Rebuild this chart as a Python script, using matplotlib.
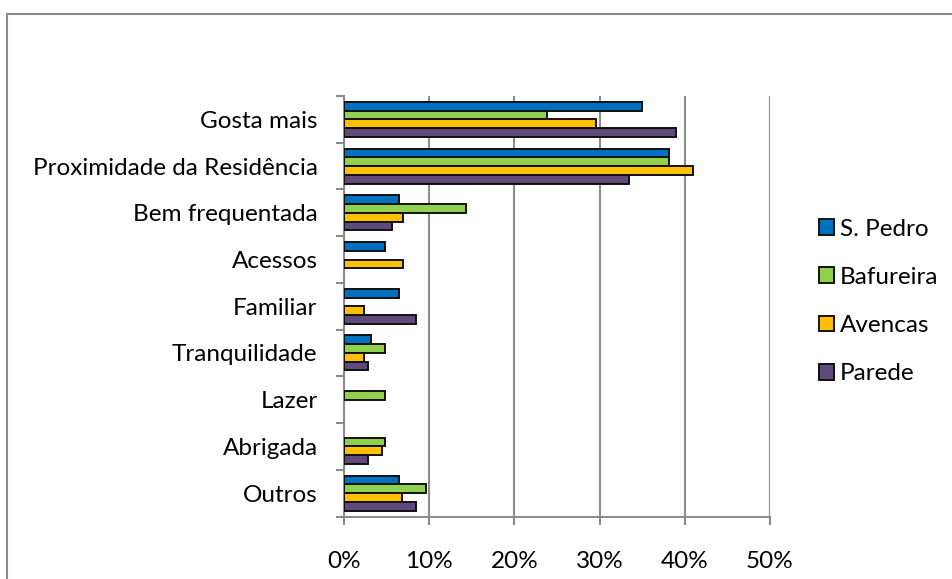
import numpy as np
import matplotlib.pyplot as plt
from matplotlib.patches import Rectangle

plt.rcParams['font.family'] = ['Lato', 'DejaVu Sans']

categorias = ['Gosta mais', 'Proximidade da Residência', 'Bem frequentada', 'Acessos',
              'Familiar', 'Tranquilidade', 'Lazer', 'Abrigada', 'Outros']
series = ['S. Pedro', 'Bafureira', 'Avencas', 'Parede']
s_pedro   = [35.0, 38.1, 6.4, 4.8, 6.4, 3.2, 0.0, 0.0, 6.4]
bafureira = [23.8, 38.1, 14.3, 0.0, 0.0, 4.8, 4.8, 4.8, 9.6]
avencas   = [29.6, 41.0, 6.9, 6.9, 2.3, 2.3, 0.0, 4.5, 6.8]
parede    = [39.0, 33.4, 5.6, 0.0, 8.4, 2.8, 0.0, 2.8, 8.4]
cores = ['#0070C0', '#92D050', '#FFC000', '#604A7B']
xticks = [0, 10, 20, 30, 40, 50]

grey = '#8c8c8c'
fig = plt.figure(figsize=(9.53, 5.79), dpi=100)
# moldura exterior (sem lado direito / inferior visiveis)
fig.patches.append(Rectangle((7/953, -0.1), 1.2, 1 - 14/579 + 0.1, transform=fig.transFigure,
                             fill=False, edgecolor=grey, linewidth=1.5))
ax = fig.add_axes([344/953, 1 - 516.5/579, (770 - 344)/953, (516.5 - 96)/579])

n = len(categorias)
y = np.arange(n)
h = 0.187
dados = [s_pedro, bafureira, avencas, parede]
for i, (vals, c, nome) in enumerate(zip(dados, cores, series)):
    vals = np.array(vals)
    pos = y + (i - 1.5) * h
    m = vals > 0  # sem barras de valor zero
    ax.barh(pos[m], vals[m], height=h, color=c, edgecolor='#111111', linewidth=1.4,
            label=nome, zorder=3)

ax.set_xlim(0, 50)
ax.set_ylim(n - 0.5, -0.5)
ax.set_xticks(xticks)
ax.set_xticklabels(['%d%%' % v for v in xticks], fontsize=17.5)
ax.tick_params(axis='x', direction='out', length=6, width=1.5, color=grey, pad=19)
ax.set_yticks(np.arange(n + 1) - 0.5)
ax.set_yticklabels([])
ax.set_yticks(y, minor=True)
ax.set_yticklabels(categorias, minor=True, fontsize=17.5)
ax.tick_params(axis='y', which='major', direction='out', length=6, width=1.5, color=grey)
ax.tick_params(axis='y', which='minor', length=0, pad=19)
ax.grid(axis='x', color=grey, linewidth=1.5, zorder=0)
for s in ['top', 'right']:
    ax.spines[s].set_visible(False)
for s in ['left', 'bottom']:
    ax.spines[s].set_color(grey)
    ax.spines[s].set_linewidth(1.5)

leg = fig.legend(loc='center left', bbox_to_anchor=(819/953, 1 - 301.5/579), frameon=False,
                 fontsize=17.5, handlelength=0.62, handleheight=0.62, handletextpad=0.25,
                 labelspacing=1.12, borderpad=0, borderaxespad=0)
for p in leg.get_patches():
    p.set_linewidth(1.4)

plt.savefig('out.png', dpi=100)
